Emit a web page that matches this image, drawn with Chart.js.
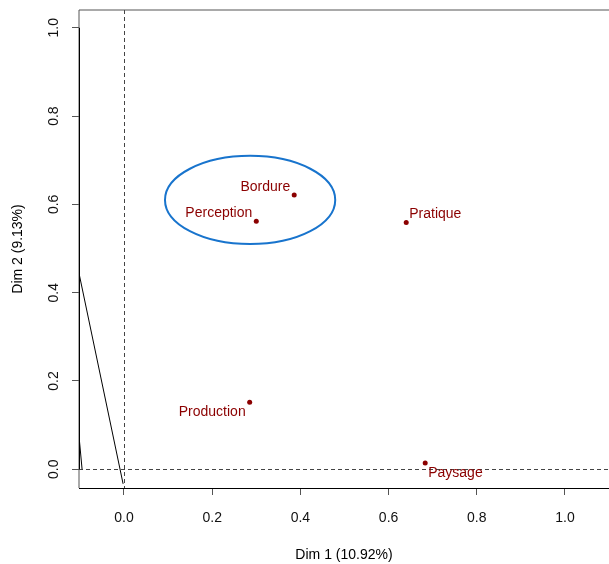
<!DOCTYPE html>
<html>
<head>
<meta charset="utf-8">
<script src="https://cdn.jsdelivr.net/npm/chart.js@4.4.0/dist/chart.umd.min.js"></script>
<style>
  body { margin: 0; background: #fff; }
  canvas { display: block; }
</style>
</head>
<body>
<canvas id="myChart" width="609" height="564"></canvas>
<script>
const categories = ['Bordure', 'Perception', 'Pratique', 'Production', 'Paysage'];
const dim1 = [0.386, 0.300, 0.640, 0.285, 0.683];
const dim2 = [0.621, 0.562, 0.559, 0.152, 0.014];
const labelPos = ['left-above', 'left-above', 'right-above', 'left-below', 'right-below'];

const xTicks = [0, 0.2, 0.4, 0.6, 0.8, 1.0];
const yTicks = [0, 0.2, 0.4, 0.6, 0.8, 1.0];

// the two cut-off segments at the left edge
const segA = [{x: -0.102, y: 0.444}, {x: -0.002, y: -0.033}];
const segB = [{x: -0.102, y: 0.075}, {x: -0.095, y: 0}];

// group circled in blue: centre x, centre y, radius x, radius y
const ellipse = [0.286, 0.610, 0.193, 0.100];

const font = 'Liberation Sans, Arial, sans-serif';
const red = '#8B0000';

const decor = {
    id: 'decor',
    beforeDatasetsDraw(chart) {
        const { ctx, chartArea: a, scales: { x, y } } = chart;
        ctx.save();
        ctx.strokeStyle = '#444';
        ctx.lineWidth = 1;
        ctx.setLineDash([4, 3]);
        const x0 = Math.round(x.getPixelForValue(0)) + 0.5;
        const y0 = Math.round(y.getPixelForValue(0)) + 0.5;
        ctx.beginPath();
        ctx.moveTo(x0, a.top); ctx.lineTo(x0, a.bottom);
        ctx.moveTo(a.left, y0); ctx.lineTo(a.right, y0);
        ctx.stroke();
        ctx.restore();
    },
    afterDatasetsDraw(chart) {
        const { ctx, chartArea: a, scales: { x, y } } = chart;
        ctx.save();

        // ellipse
        const cx = x.getPixelForValue(ellipse[0]);
        const cy = y.getPixelForValue(ellipse[1]);
        const rx = x.getPixelForValue(ellipse[0] + ellipse[2]) - cx;
        const ry = cy - y.getPixelForValue(ellipse[1] + ellipse[3]);
        ctx.strokeStyle = '#1874CD';
        ctx.lineWidth = 2;
        ctx.beginPath();
        ctx.ellipse(cx, cy, rx, ry, 0, 0, Math.PI * 2);
        ctx.stroke();

        // point labels
        ctx.fillStyle = red;
        ctx.font = '14px ' + font;
        ctx.textBaseline = 'middle';
        categories.forEach((name, i) => {
            const px = x.getPixelForValue(dim1[i]);
            const py = y.getPixelForValue(dim2[i]);
            const [side, vert] = labelPos[i].split('-');
            ctx.textAlign = side === 'left' ? 'right' : 'left';
            const tx = side === 'left' ? px - 4 : px + 3;
            const ty = vert === 'above' ? py - 8 : py + 10;
            ctx.fillText(name, tx, ty);
        });

        // frame: right side is cut off in the original
        ctx.strokeStyle = '#555';
        ctx.lineWidth = 1;
        ctx.beginPath();
        ctx.moveTo(a.right, a.top);
        ctx.lineTo(a.left, a.top);
        ctx.lineTo(a.left, a.bottom);
        ctx.stroke();
        ctx.strokeStyle = '#000';
        ctx.beginPath();
        ctx.moveTo(a.left + 0.5, y.getPixelForValue(yTicks[0]));
        ctx.lineTo(a.left + 0.5, y.getPixelForValue(yTicks[yTicks.length - 1]));
        ctx.moveTo(a.left, a.bottom + 0.5);
        ctx.lineTo(a.right, a.bottom + 0.5);
        ctx.stroke();
        ctx.restore();
    }
};

const noPad = s => {
    s.paddingLeft = 0; s.paddingRight = 0;
    s.paddingTop = 0; s.paddingBottom = 0;
};

const ctx = document.getElementById('myChart').getContext('2d');
new Chart(ctx, {
    type: 'scatter',
    data: {
        datasets: [
            {
                data: dim1.map((v, i) => ({ x: v, y: dim2[i] })),
                backgroundColor: red,
                borderColor: red,
                pointRadius: 2.5,
                pointBorderWidth: 0
            },
            {
                data: segA,
                showLine: true,
                borderColor: '#000',
                borderWidth: 1,
                pointRadius: 0
            },
            {
                data: segB,
                showLine: true,
                borderColor: '#000',
                borderWidth: 1,
                pointRadius: 0
            }
        ]
    },
    options: {
        responsive: false,
        animation: false,
        devicePixelRatio: 1,
        layout: { autoPadding: false, padding: { top: 10, right: 0, bottom: 0, left: 0 } },
        plugins: { legend: { display: false }, tooltip: { enabled: false } },
        scales: {
            x: {
                type: 'linear',
                min: -0.102,
                max: 1.0998,
                afterFit: s => { s.height = 76; noPad(s); },
                afterBuildTicks: s => { s.ticks = xTicks.map(v => ({ value: v })); },
                grid: { display: true, drawOnChartArea: false, drawTicks: true, tickLength: 7, color: '#555' },
                border: { display: false },
                ticks: {
                    color: '#111',
                    font: { family: font, size: 14 },
                    padding: 15,
                    maxRotation: 0,
                    callback: v => v.toFixed(1)
                },
                title: {
                    display: true,
                    text: 'Dim 1 (10.92%)',
                    color: '#000',
                    font: { family: font, size: 14, lineHeight: 1.2 },
                    padding: { top: 0, bottom: 0 }
                }
            },
            y: {
                type: 'linear',
                min: -0.0424,
                max: 1.0403,
                afterFit: s => { s.width = 79; noPad(s); },
                afterBuildTicks: s => { s.ticks = yTicks.map(v => ({ value: v })); },
                grid: { display: true, drawOnChartArea: false, drawTicks: true, tickLength: 7, color: '#555' },
                border: { display: false },
                ticks: {
                    color: '#111',
                    font: { family: font, size: 14 },
                    padding: 8,
                    minRotation: 90,
                    maxRotation: 90,
                    crossAlign: 'center',
                    callback: v => v.toFixed(1)
                },
                title: {
                    display: true,
                    text: 'Dim 2 (9.13%)',
                    color: '#000',
                    font: { family: font, size: 14, lineHeight: 1.2 },
                    padding: { top: 9.5, bottom: 0 }
                }
            }
        }
    },
    plugins: [decor]
});
</script>
</body>
</html>
